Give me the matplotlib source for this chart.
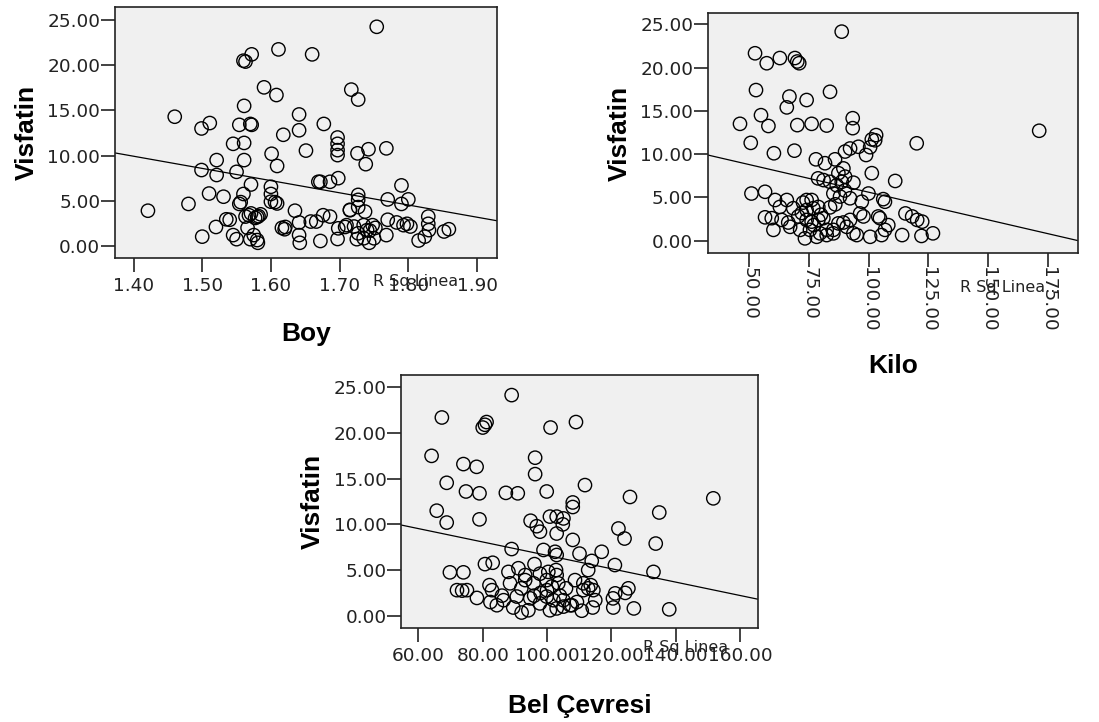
import matplotlib
matplotlib.use("Agg")
import matplotlib.pyplot as plt
import numpy as np

# ---------------- data ----------------
boy = [1.421,1.460,1.480,1.499,1.511,1.499,1.510,1.521,1.521,1.531,
       1.500,1.520,1.535,1.540,1.545,1.550,1.545,1.550,1.554,1.556,
       1.560,1.560,1.563,1.572,1.561,1.554,1.570,1.572,1.561,1.561,
       1.571,1.563,1.571,1.577,1.582,1.570,1.580,1.581,1.575,1.590,
       1.601,1.608,1.611,1.609,1.600,1.600,1.600,1.609,1.618,1.621,
       1.620,1.635,1.641,1.641,1.651,1.641,1.641,1.642,1.660,1.666,
       1.669,1.672,1.672,1.677,1.676,1.686,1.686,1.698,1.697,1.697,
       1.697,1.697,1.698,1.697,1.708,1.715,1.717,1.727,1.726,1.742,
       1.738,1.727,1.727,1.727,1.715,1.737,1.721,1.727,1.725,1.735,
       1.740,1.743,1.750,1.754,1.768,1.770,1.770,1.768,1.783,1.790,
       1.790,1.800,1.793,1.803,1.815,1.824,1.829,1.829,1.830,1.852,
       1.859,1.798,1.752,1.748,1.744,1.735,1.710,1.658,1.606,1.616,
       1.568,1.580,1.566,1.585]
visf_boy = [3.9,14.3,4.65,13.0,13.6,8.4,5.8,9.5,7.85,5.45,
            1.03,2.1,2.95,2.9,11.3,8.2,1.2,0.75,4.65,4.85,
            5.75,20.5,20.4,21.2,15.5,13.4,13.5,13.4,11.4,9.5,
            6.8,3.25,3.6,3.1,3.3,0.75,0.65,0.35,1.2,17.55,
            10.2,16.7,21.75,8.85,6.55,5.75,4.9,4.7,12.3,2.1,
            1.85,3.9,14.55,12.8,10.55,2.6,1.2,0.35,21.2,2.7,
            7.1,7.1,0.55,13.5,3.4,3.25,7.1,7.5,12.0,11.3,
            10.6,10.05,1.95,0.77,2.1,4.0,17.3,16.2,10.25,10.7,
            9.05,5.65,5.1,4.3,3.95,3.8,2.15,1.4,0.75,0.85,
            1.75,0.35,0.85,24.25,10.8,5.15,2.9,1.2,2.6,4.65,
            6.7,5.15,2.3,2.15,0.6,1.03,3.25,2.45,1.75,1.6,
            1.85,2.45,2.0,2.3,1.7,2.3,2.3,2.7,4.85,2.0,
            3.4,3.2,2.0,3.5]

kilo = [88.7,52.4,57.3,62.8,69.1,70.1,70.9,52.8,66.8,65.7,
        74.0,83.8,46.1,54.9,58.0,70.1,76.1,82.4,93.3,93.3,
        50.6,60.3,68.9,77.9,81.7,85.9,90.1,92.2,95.7,98.9,
        100.6,103.1,102.7,101.3,120.1,171.4,78.8,81.1,83.8,87.3,
        89.4,90.1,86.6,88.7,93.6,101.3,111.1,50.9,56.6,60.8,
        65.7,74.0,76.1,85.2,88.0,92.2,97.1,99.9,106.1,106.8,
        83.8,78.9,62.8,68.4,74.0,76.8,56.6,59.4,63.5,66.3,
        70.5,74.0,76.1,78.9,60.1,67.1,71.3,75.4,79.6,82.4,
        85.2,87.3,89.4,73.3,78.2,82.4,85.2,93.6,95.0,100.6,
        105.4,106.8,108.2,96.4,97.8,104.0,104.7,114.0,115.4,118.2,
        120.3,122.4,122.1,126.9,92.2,90.8,72.0,80.0,86.0,90.0,
        72.5,77.0,81.0]
visf_kilo = [24.15,21.65,20.5,21.1,21.1,20.7,20.5,17.4,16.65,15.4,
             16.25,17.2,13.5,14.5,13.25,13.35,13.5,13.3,14.15,13.0,
             11.3,10.1,10.4,9.4,8.95,9.4,10.3,10.65,10.85,9.9,
             10.8,12.2,11.6,11.7,11.25,12.7,7.2,7.0,6.8,7.8,
             8.35,7.4,6.4,6.8,6.7,7.8,6.9,5.45,5.65,4.7,
             4.7,4.7,4.7,5.45,5.1,4.9,4.5,5.45,4.8,4.5,
             3.85,3.9,3.9,3.75,3.55,3.75,2.7,2.6,2.4,2.1,
             2.8,2.4,2.2,2.4,1.25,1.6,1.25,1.25,0.85,1.25,
             1.25,2.0,2.1,0.27,0.45,0.65,0.85,0.85,0.65,0.45,
             0.65,1.25,1.8,3.15,2.8,2.8,2.6,0.65,3.15,2.8,
             2.4,2.2,0.55,0.85,2.4,1.6,3.2,3.0,4.2,5.8,
             4.4,1.8,2.6]

bel = [89.0,67.3,81.2,80.0,80.7,101.1,109.0,64.1,74.0,78.1,
       96.3,96.3,68.8,74.8,79.0,87.2,90.9,99.9,111.8,65.7,
       68.8,79.0,108.0,108.0,125.8,151.7,134.9,94.9,96.8,97.8,
       100.9,103.0,105.1,104.9,103.0,122.2,124.1,108.0,89.0,98.9,
       102.5,103.0,110.1,117.0,133.8,80.7,83.1,96.1,113.9,112.8,
       121.1,133.1,69.8,74.0,88.0,91.1,93.2,97.8,100.4,102.8,
       103.0,82.1,88.5,93.2,95.8,99.9,103.5,105.9,108.7,111.3,
       112.8,114.4,113.6,72.0,73.6,75.1,78.2,82.9,82.4,84.4,
       86.5,90.6,94.8,97.8,99.9,102.0,105.1,107.2,109.3,111.3,
       115.0,120.5,121.2,124.3,125.3,89.5,92.1,94.2,100.9,103.0,
       105.1,107.7,110.8,114.2,120.6,127.0,138.0,98.0,100.0,101.5,
       96.0,92.0,86.0,104.0]
visf_bel = [24.15,21.7,21.2,20.6,20.9,20.6,21.2,17.5,16.6,16.3,
            17.3,15.5,14.55,13.6,13.4,13.45,13.4,13.6,14.3,11.5,
            10.2,10.55,12.4,11.9,13.0,12.85,11.3,10.4,9.8,9.2,
            10.85,10.85,10.65,10.0,9.0,9.55,8.45,8.3,7.3,7.2,
            7.0,6.65,6.8,7.0,7.9,5.65,5.8,5.65,6.0,5.0,
            5.55,4.8,4.75,4.75,4.8,5.2,4.45,4.6,4.8,5.0,
            4.45,3.35,3.55,3.9,3.55,3.9,3.55,3.0,3.9,3.55,
            3.0,2.8,3.35,2.8,2.75,2.8,1.95,2.8,1.5,1.15,
            1.7,2.1,1.9,1.35,2.1,1.7,1.7,1.15,1.5,2.8,
            1.7,1.9,2.45,2.5,3.0,0.9,0.35,0.6,0.6,0.8,
            1.0,1.15,0.55,0.9,0.9,0.8,0.7,2.5,2.8,3.2,
            2.2,3.0,2.2,2.2]

# fit lines: (intercept, slope)
fit_boy = (28.83, -13.5)
fit_kilo = (11.98, -0.0638)
fit_bel = (13.93, -0.0732)

y_ticks = [0, 5, 10, 15, 20, 25]
boy_ticks = [1.40, 1.50, 1.60, 1.70, 1.80, 1.90]
kilo_ticks = [50, 75, 100, 125, 150, 175]
bel_ticks = [60, 80, 100, 120, 140, 160]

fit_label = "R Sq Linea"

# ---------------- figure ----------------
fig = plt.figure(figsize=(10.99, 7.22), dpi=100)
fig.patch.set_facecolor("white")

tick_font = dict(family="DejaVu Sans", size=13.3)
label_font = dict(family="Liberation Sans", size=19, weight="bold")


def panel(rect, x, y, fit, xlim, ylim, xticks, xlabel, xrot, xlabelpad, txtpos, txt):
    ax = fig.add_axes(rect)
    ax.set_facecolor("#f0f0f0")
    ax.scatter(x, y, s=92, facecolors="none", edgecolors="black", linewidths=1.0, zorder=3)
    ax.axline((0, fit[0]), slope=fit[1], color="black", lw=0.9, zorder=2)
    ax.set_xlim(*xlim)
    ax.set_ylim(*ylim)
    ax.set_yticks(y_ticks)
    ax.set_yticklabels([f"{v:.2f}" for v in y_ticks], **tick_font)
    ax.set_xticks(xticks)
    if xrot:
        ax.set_xticklabels([f"{v:.2f}" for v in xticks], rotation=270, ha="center", va="top", **tick_font)
    else:
        ax.set_xticklabels([f"{v:.2f}" for v in xticks], **tick_font)
    for sp in ax.spines.values():
        sp.set_linewidth(1.2)
        sp.set_color("#222222")
    ax.tick_params(axis="y", direction="out", length=10, width=1.2, pad=0.5, colors="#222222")
    ax.tick_params(axis="x", direction="out", length=10, width=1.2, pad=(0 if xrot else 4), colors="#222222")
    ax.set_ylabel("Visfatin", labelpad=6, **label_font)
    ax.set_xlabel(xlabel, labelpad=xlabelpad, **label_font)
    ax.text(txtpos[0], txtpos[1], txt, transform=ax.transAxes, ha="left", va="center",
            fontsize=11.5, family="DejaVu Sans", color="#222222")
    return ax


panel([0.1046, 0.6427, 0.3476, 0.3476], boy, visf_boy, fit_boy,
      (1.373, 1.929), (-1.33, 26.44), boy_ticks, "Boy", False, 19,
      (0.675, -0.095), fit_label)

panel([0.644, 0.6496, 0.337, 0.332], kilo, visf_kilo, fit_kilo,
      (32.6, 187.7), (-1.42, 26.27), kilo_ticks, "Kilo", True, 16,
      (0.681, -0.146), fit_label + "...")

panel([0.3649, 0.1306, 0.3251, 0.35], bel, visf_bel, fit_bel,
      (54.6, 165.7), (-1.31, 26.35), bel_ticks, "Bel Çevresi", False, 21,
      (0.677, -0.08), fit_label)

fig.savefig("out.png", dpi=100, facecolor="white")
